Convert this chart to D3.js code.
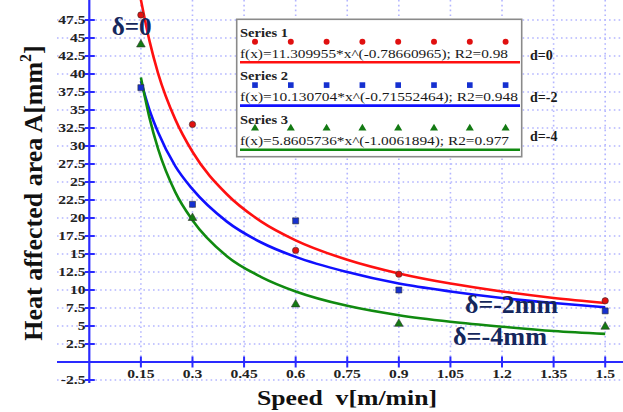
<!DOCTYPE html>
<html><head><meta charset="utf-8">
<script src="https://cdn.jsdelivr.net/npm/d3@7"></script>
<style>
html,body{margin:0;padding:0;background:#fff;}
svg{display:block;font-family:"Liberation Serif","Times New Roman",serif;}
</style></head>
<body><svg id="chart" width="623" height="412"></svg>
<script>
// ---- data ----
const speeds = [0.15, 0.3, 0.6, 0.9, 1.5];
const area0 = [48.2, 33.0, 15.5, 12.2, 8.5];      // delta = 0
const area2 = [38.1, 21.9, 19.6, 10.0, 7.1];      // delta = -2
const area4 = [44.1, 20.0, 8.0, 5.3, 4.9];        // delta = -4
const fitX = [0.15, 0.175, 0.2, 0.25, 0.3, 0.4, 0.5, 0.6, 0.75, 0.9, 1.05, 1.2, 1.35, 1.5];
const fit0 = [50.3, 44.6, 40.1, 33.7, 29.2, 23.3, 19.5, 16.9, 14.2, 12.3, 10.9, 9.8, 8.9, 8.2];
const fit2 = [39.0, 35.0, 31.9, 27.2, 24.0, 19.5, 16.6, 14.6, 12.5, 10.9, 9.8, 8.9, 8.2, 7.6];
const fit4 = [39.5, 33.9, 29.6, 23.6, 19.7, 14.7, 11.8, 9.8, 7.8, 6.5, 5.6, 4.9, 4.3, 3.9];
const xTicks = [0.15, 0.3, 0.45, 0.6, 0.75, 0.9, 1.05, 1.2, 1.35, 1.5];
const yTicks = [-2.5, 2.5, 5, 7.5, 10, 12.5, 15, 17.5, 20, 22.5, 25, 27.5, 30, 32.5, 35, 37.5, 40, 42.5, 45, 47.5];
const seriesNames = ["Series 1", "Series 2", "Series 3"];
const formulas = ["f(x)=11.309955*x^(-0.78660965); R2=0.98",
                  "f(x)=10.130704*x^(-0.71552464); R2=0.948",
                  "f(x)=5.8605736*x^(-1.0061894); R2=0.977"];
const dLabels = ["d=0", "d=-2", "d=-4"];
const deltaLabels = ["δ=0", "δ=-2mm", "δ=-4mm"];

// ---- setup ----
const svg = d3.select("#chart");
const x = d3.scaleLinear().domain([0, 1.5]).range([89.3, 605.2]);
const y = d3.scaleLinear().domain([-2.5, 47.5]).range([380, 20]);
const colors = ["#ff1010", "#1010ff", "#108a10"];
const markFill = ["#e01010", "#1530d0", "#137a13"];
const gridColor = "#b4b6ff";

// grid
svg.append("g").selectAll("line").data(yTicks).join("line")
  .attr("x1", 57).attr("x2", 623).attr("y1", d => y(d)).attr("y2", d => y(d))
  .attr("stroke", gridColor).attr("stroke-width", 1.6).attr("stroke-dasharray", "1.6,3.2");
svg.append("g").selectAll("line").data(xTicks).join("line")
  .attr("x1", d => x(d)).attr("x2", d => x(d)).attr("y1", 0).attr("y2", y(0))
  .attr("stroke", gridColor).attr("stroke-width", 1.6).attr("stroke-dasharray", "1.6,3.2");

// axes lines
svg.append("line").attr("x1", 57).attr("x2", 623).attr("y1", y(0)).attr("y2", y(0))
  .attr("stroke", "#2a2aff").attr("stroke-width", 2.2);
svg.append("line").attr("x1", x(0)).attr("x2", x(0)).attr("y1", 0).attr("y2", 383)
  .attr("stroke", "#2a2aff").attr("stroke-width", 2.2);
// ticks
svg.append("g").selectAll("line").data(yTicks.concat([0])).join("line")
  .attr("x1", x(0) - 4.5).attr("x2", x(0) + 5.5).attr("y1", d => y(d)).attr("y2", d => y(d))
  .attr("stroke", "#2a2aff").attr("stroke-width", 2);
svg.append("g").selectAll("line").data(xTicks).join("line")
  .attr("x1", d => x(d)).attr("x2", d => x(d)).attr("y1", y(0) - 5.5).attr("y2", y(0) + 5.5)
  .attr("stroke", "#2a2aff").attr("stroke-width", 2);

// tick labels
svg.append("g").selectAll("text").data(yTicks).join("text")
  .attr("transform", d => `translate(85.5,${y(d) + 4}) scale(1.3,1)`)
  .attr("text-anchor", "end").attr("font-size", 12).attr("fill", "#222")
  .attr("font-weight", 600).text(d => d);
svg.append("g").selectAll("text").data(xTicks).join("text")
  .attr("transform", d => `translate(${x(d)},378) scale(1.3,1)`)
  .attr("text-anchor", "middle").attr("font-size", 12).attr("fill", "#222")
  .attr("font-weight", 600).text(d => d);

// axis titles
const yt = svg.append("text").attr("transform", "translate(42,193) rotate(-90)")
  .attr("text-anchor", "middle").attr("font-size", 26).attr("font-weight", "bold").attr("fill", "#111");
yt.append("tspan").text("Heat affected area A[mm");
yt.append("tspan").attr("font-size", 16).attr("dy", -11).text("2");
yt.append("tspan").attr("dy", 11).text("]");
svg.append("text").attr("x", 347).attr("y", 405).attr("text-anchor", "middle")
  .attr("font-size", 22).attr("font-weight", "bold").attr("fill", "#111")
  .attr("textLength", 180).attr("lengthAdjust", "spacingAndGlyphs")
  .style("white-space", "pre").text("Speed  v[m/min]");

// fit curves
const line = d3.line().x(d => x(d[0])).y(d => y(d[1])).curve(d3.curveMonotoneX);
[fit0, fit2, fit4].forEach((vals, i) => {
  svg.append("path").datum(fitX.map((v, k) => [v, vals[k]]))
    .attr("d", line).attr("fill", "none").attr("stroke", colors[i]).attr("stroke-width", 2.6);
});

// markers
const sym = [d3.symbolCircle, d3.symbolSquare, d3.symbolTriangle];
const symSize = [32, 36, 32];
[area0, area2, area4].forEach((vals, i) => {
  svg.append("g").selectAll("path").data(speeds).join("path")
    .attr("transform", (d, k) => `translate(${x(d)},${y(vals[k])})`)
    .attr("d", d3.symbol().type(sym[i]).size(symSize[i]))
    .attr("fill", markFill[i]).attr("stroke", "#333").attr("stroke-width", 0.6);
});

// delta labels
const dPos = [[111.7, 35, 40], [465, 313, 93], [453, 345, 94]];
deltaLabels.forEach((t, i) => {
  svg.append("text").attr("x", dPos[i][0]).attr("y", dPos[i][1])
    .attr("font-size", 25).attr("font-weight", "bold").attr("fill", "#15275c")
    .attr("textLength", dPos[i][2]).attr("lengthAdjust", "spacingAndGlyphs").text(t);
});

// legend
const lg = svg.append("g");
lg.append("rect").attr("x", 236.7).attr("y", 19.3).attr("width", 285).attr("height", 137.4)
  .attr("fill", "#fff").attr("stroke", "#8a8a8a").attr("stroke-width", 1.6);
const secY = [0, 43.3, 87.5];
const fW = [268, 278, 269];
const legMarkX = d3.range(8).map(k => 255 + k * 35.8);
seriesNames.forEach((nm, i) => {
  const oy = 19.3 + secY[i];
  lg.append("text").attr("x", 240).attr("y", oy + 17.5).attr("font-size", 12).attr("font-weight", "bold")
    .attr("fill", "#222").attr("textLength", 48).attr("lengthAdjust", "spacingAndGlyphs").text(nm);
  lg.append("g").selectAll("path").data(legMarkX).join("path")
    .attr("transform", d => `translate(${d},${oy + 22.5 + (i === 2 ? -1 : 0)})`)
    .attr("d", d3.symbol().type(sym[i]).size(symSize[i] - 4))
    .attr("fill", markFill[i]);
  lg.append("text").attr("x", 240).attr("y", oy + 38.5).attr("font-size", 11.5)
    .attr("fill", "#1a1a1a").attr("textLength", fW[i]).attr("lengthAdjust", "spacingAndGlyphs").text(formulas[i]);
  lg.append("line").attr("x1", 240).attr("x2", 520).attr("y1", oy + 43).attr("y2", oy + 43)
    .attr("stroke", colors[i]).attr("stroke-width", 2.6);
});
const dY = [60, 101.7, 141];
dLabels.forEach((t, i) => {
  svg.append("text").attr("x", 530).attr("y", dY[i]).attr("font-size", 14).attr("font-weight", "bold")
    .attr("fill", "#1a1a1a").text(t);
});
</script>
</body></html>
